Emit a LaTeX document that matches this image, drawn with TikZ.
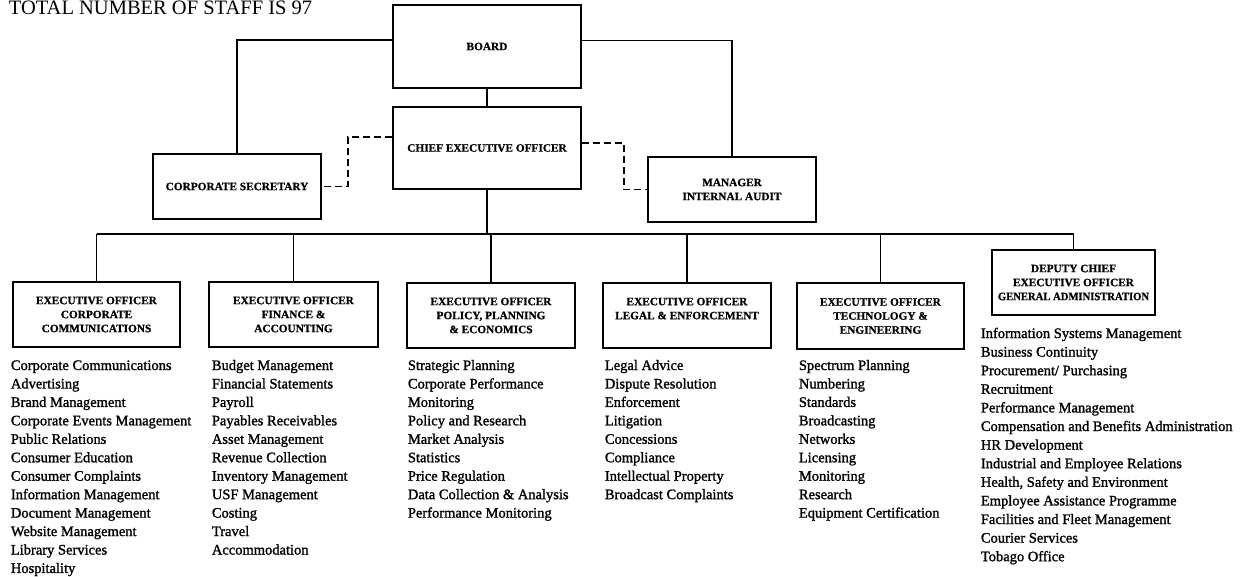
\documentclass[tikz,border=0pt]{standalone}
\usepackage{fontspec}
\setmainfont{Liberation Serif}
\newfontfamily\listfont[FakeBold=1.4]{Liberation Serif}
\newfontfamily\boxfont[BoldFeatures={FakeBold=0.8}]{Liberation Serif}
\usetikzlibrary{calc}
\begin{document}
\begin{tikzpicture}[x=1pt,y=-1pt,line width=1.8pt,
  orgbox/.style={draw, rectangle, inner sep=0pt, align=center,
    font=\boxfont\fontsize{11.3}{14}\selectfont\bfseries},
  item/.style={anchor=base west, inner sep=0pt, font=\listfont\fontsize{14.5}{18}\selectfont},
  dashlink/.style={dash pattern=on 7pt off 4pt}]
\useasboundingbox (0,0) rectangle (1242,577);
\node[anchor=base west, inner sep=0pt, font=\fontsize{20.5}{24}\selectfont] (title) at (8,15) {TOTAL NUMBER OF STAFF IS 97};
% top boxes
\node[orgbox, minimum width=188pt, minimum height=83pt] (board) at (487,46.5) {BOARD};
\node[orgbox, minimum width=188pt, minimum height=82pt] (ceo) at (487,148) {CHIEF EXECUTIVE OFFICER};
\node[orgbox, minimum width=168pt, minimum height=65pt] (cs) at (237,186.5) {CORPORATE SECRETARY};
\node[orgbox, minimum width=168pt, minimum height=65pt] (mia) at (732,189.5) {MANAGER\\INTERNAL AUDIT};
% executive boxes
\node[orgbox, minimum width=167pt, minimum height=65pt] (e1) at (96.5,314.5) {EXECUTIVE OFFICER\\CORPORATE\\COMMUNICATIONS};
\node[orgbox, minimum width=169pt, minimum height=65pt] (e2) at (293.5,314.5) {EXECUTIVE OFFICER\\FINANCE \&\\ACCOUNTING};
\node[orgbox, minimum width=168pt, minimum height=65pt] (e3) at (491,315.5) {EXECUTIVE OFFICER\\POLICY, PLANNING\\\& ECONOMICS};
\node[orgbox, minimum width=168pt, minimum height=65pt] (e4) at (687,315.5) {EXECUTIVE OFFICER\\LEGAL \& ENFORCEMENT\\\phantom{X}};
\node[orgbox, minimum width=167pt, minimum height=66pt] (e5) at (880.5,316) {EXECUTIVE OFFICER\\TECHNOLOGY \&\\ENGINEERING};
\node[orgbox, minimum width=163pt, minimum height=65pt] (e6) at (1073.5,282.5) {DEPUTY CHIEF\\EXECUTIVE OFFICER\\\scalebox{0.94}[1]{GENERAL ADMINISTRATION}};
% connectors
\coordinate (bus) at (0,234);
\draw (board.south) -- (ceo.north);
\draw ($(board.north west)!0.42!(board.south west)$) -| (cs.north);
\draw ($(board.north east)!0.43!(board.south east)$) -| (mia.north);
\draw[dashlink] ($(ceo.north west)!0.37!(ceo.south west)$) -- ++(-44,0) |- (cs.east);
\draw[dashlink] ($(ceo.north east)!0.44!(ceo.south east)$) -- ++(42,0) |- (mia.west);
\draw (ceo.south) -- (ceo.south |- bus);
\draw (e1.north |- bus) -- (e6.north |- bus);
\foreach \e in {e1,e2,e3,e4,e5,e6} \draw (\e.north |- bus) -- (\e.north);
% lists
\foreach \t [count=\i from 0] in {Corporate Communications, Advertising, Brand Management, Corporate Events Management, Public Relations, Consumer Education, Consumer Complaints, Information Management, Document Management, Website Management, Library Services, Hospitality}
  \node[item] (la-\i) at (10,370+18.45*\i) {\t};
\foreach \t [count=\i from 0] in {Budget Management, Financial Statements, Payroll, Payables Receivables, Asset Management, Revenue Collection, Inventory Management, USF Management, Costing, Travel, Accommodation}
  \node[item] (lb-\i) at (211,370+18.45*\i) {\t};
\foreach \t [count=\i from 0] in {Strategic Planning, Corporate Performance, Monitoring, Policy and Research, Market Analysis, Statistics, Price Regulation, Data Collection \& Analysis, Performance Monitoring}
  \node[item] (lc-\i) at (407,370+18.45*\i) {\t};
\foreach \t [count=\i from 0] in {Legal Advice, Dispute Resolution, Enforcement, Litigation, Concessions, Compliance, Intellectual Property, Broadcast Complaints}
  \node[item] (ld-\i) at (604,370+18.45*\i) {\t};
\foreach \t [count=\i from 0] in {Spectrum Planning, Numbering, Standards, Broadcasting, Networks, Licensing, Monitoring, Research, Equipment Certification}
  \node[item] (le-\i) at (798,370+18.45*\i) {\t};
\foreach \t [count=\i from 0] in {Information Systems Management, Business Continuity, Procurement/ Purchasing, Recruitment, Performance Management, Compensation and Benefits Administration, HR Development, Industrial and Employee Relations, {Health, Safety and Environment}, Employee Assistance Programme, Facilities and Fleet Management, Courier Services, Tobago Office}
  \node[item] (lf-\i) at (980,338+18.6*\i) {\t};
\end{tikzpicture}
\end{document}
